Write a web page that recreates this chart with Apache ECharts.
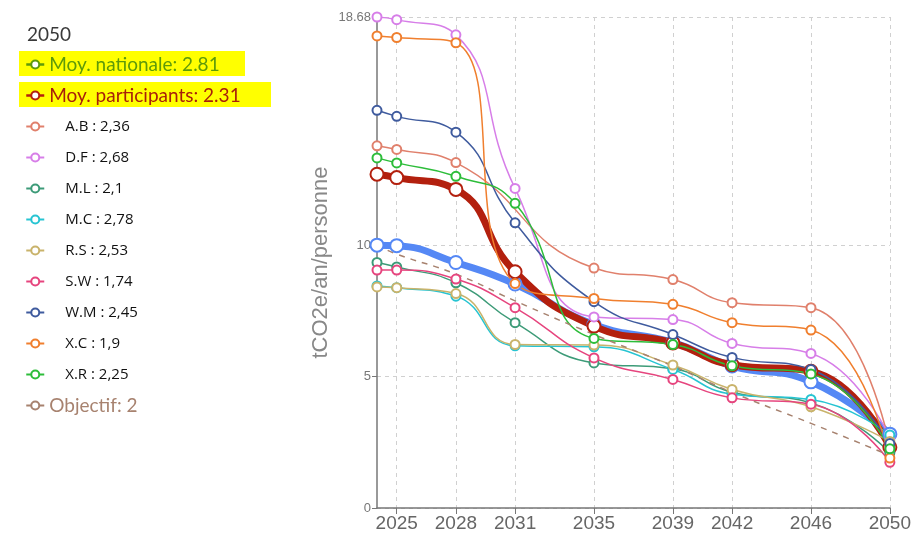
<!DOCTYPE html>
<html>
<head>
<meta charset="utf-8">
<script src="https://cdn.jsdelivr.net/npm/echarts@6/dist/echarts.min.js"></script>
<style>
  html, body { margin: 0; padding: 0; background: #fff; }
  #main { width: 914px; height: 542px; }
</style>
</head>
<body>
<div id="main"></div>
<script>
// années (abscisses) et ticks
const years = [2024, 2025, 2028, 2031, 2035, 2039, 2042, 2046, 2050];
const xTicks = [2025, 2028, 2031, 2035, 2039, 2042, 2046, 2050];
const yTicks = [0, 5, 10, 18.68];

// moyennes
const moyNationale = [10.0, 9.98, 9.34, 8.52, 6.98, 6.3, 5.4, 4.8, 2.81];
const moyParticipants = [12.7, 12.57, 12.12, 8.99, 6.92, 6.28, 5.45, 5.2, 2.31];

// participants
const participantNames = ['A.B', 'D.F', 'M.L', 'M.C', 'R.S', 'S.W', 'W.M', 'X.C', 'X.R'];
const AB = [13.78, 13.64, 13.14, null, 9.13, 8.69, 7.81, 7.62, 2.36];
const DF = [18.68, 18.58, 18.0, 12.16, 7.27, 7.17, 6.26, 5.88, 2.68];
const ML = [9.34, 9.17, 8.57, 7.05, 5.52, 5.3, 4.4, 4.0, 2.1];
const MC = [8.45, 8.38, 8.06, 6.17, 6.13, 5.27, 4.33, 4.13, 2.78];
const RS = [8.41, 8.38, 8.16, 6.22, 6.2, 5.44, 4.51, 3.85, 2.53];
const SW = [9.05, 9.05, 8.71, 7.62, 5.71, 4.89, 4.19, 3.95, 1.74];
const WM = [15.13, 14.9, 14.3, 10.85, 7.85, 6.6, 5.73, 5.27, 2.45];
const XC = [17.96, 17.9, 17.7, 8.54, 7.97, 7.75, 7.05, 6.77, 1.9];
const XR = [13.32, 13.13, 12.62, 11.59, 6.45, 6.22, 5.41, 5.1, 2.25];
const participantValues = [AB, DF, ML, MC, RS, SW, WM, XC, XR];
const participantColors = ['#e0806c', '#d77ee8', '#3d9b78', '#27c4d2', '#c9b36b', '#e6457e', '#3f5b9e', '#f07f2e', '#2dbd3a'];

// objectif
const objectif = [10, 9.66, 8.9, 7.88, 6.6, 5.4, 4.4, 3.22, 2];

const toPairs = (vals) => years.map((y, i) => [y, vals[i]]);

const series = [];
series.push({
    name: 'Moy. nationale',
    type: 'line',
    smooth: true,
    data: toPairs(moyNationale),
    symbol: 'emptyCircle',
    symbolSize: 13,
    color: '#5588f5',
    lineStyle: { width: 7 },
    itemStyle: { borderWidth: 3 }
});
series.push({
    name: 'Moy. participants',
    type: 'line',
    smooth: true,
    data: toPairs(moyParticipants),
    symbol: 'emptyCircle',
    symbolSize: 13,
    color: '#b3200e',
    lineStyle: { width: 7 },
    itemStyle: { borderWidth: 3 }
});
participantNames.forEach((n, i) => {
    series.push({
        name: n,
        type: 'line',
        smooth: true,
        connectNulls: true,
        data: toPairs(participantValues[i]),
        symbol: 'emptyCircle',
        symbolSize: 9,
        color: participantColors[i],
        lineStyle: { width: 1.5 },
        itemStyle: { borderWidth: 1.3 }
    });
});
series.push({
    name: 'Objectif',
    type: 'line',
    smooth: true,
    data: toPairs(objectif),
    symbol: 'emptyCircle',
    showSymbol: false,
    color: '#a7826f',
    lineStyle: { width: 1.5, type: [6, 6] }
});

// valeur 2050 de chaque série pour la légende
const lastVal = {};
series.forEach(s => { lastVal[s.name] = s.data[s.data.length - 1][1]; });

const chart = echarts.init(document.getElementById('main'));
chart.setOption({
    animation: false,
    title: {
        text: '2050',
        left: 22,
        top: 20,
        textStyle: { fontFamily: 'Lato', fontSize: 19, fontWeight: 'normal', color: '#3a3a3a' }
    },
    graphic: [
        { type: 'rect', z: 0, shape: { x: 19, y: 51, width: 226, height: 25 }, style: { fill: '#ffff00' } },
        { type: 'rect', z: 0, shape: { x: 19, y: 82, width: 252, height: 25 }, style: { fill: '#ffff00' } }
    ],
    legend: {
        orient: 'vertical',
        left: 20,
        top: 48,
        itemWidth: 18,
        itemHeight: 10,
        itemGap: 8,
        selectedMode: false,
        data: [
            { name: 'Moy. nationale', itemStyle: { color: '#5e9a0a', borderWidth: 1.5 }, lineStyle: { color: '#5e9a0a', width: 2.5 } },
            { name: 'Moy. participants', itemStyle: { borderWidth: 1.5 }, lineStyle: { width: 2.5 } }
        ].concat(participantNames.map(n => ({ name: n }))).concat([{ name: 'Objectif' }]),
        formatter: (name) => {
            const v = lastVal[name];
            if (name === 'Moy. nationale') return '{nat|' + name + ': ' + v + '}';
            if (name === 'Moy. participants') return '{par|' + name + ': ' + v + '}';
            if (name === 'Objectif') return '{obj|' + name + ': ' + v + '}';
            return '{ind|' + name + ' : ' + String(v).replace('.', ',') + '}';
        },
        textStyle: {
            lineHeight: 23,
            rich: {
                nat: { fontFamily: 'Lato', fontSize: 19, color: '#5e9a0a', lineHeight: 23, height: 23 },
                par: { fontFamily: 'Lato', fontSize: 19, color: '#a8200a', lineHeight: 23, height: 23 },
                ind: { fontFamily: 'Open Sans', fontSize: 15, color: '#111', lineHeight: 23, height: 23, padding: [0, 0, 0, 16] },
                obj: { fontFamily: 'Lato', fontSize: 19, color: '#a7826f', lineHeight: 23, height: 23 }
            }
        }
    },
    grid: { left: 377, right: 21, top: 17, bottom: 34 },
    xAxis: {
        type: 'value',
        min: 2024,
        max: 2050,
        axisLine: { lineStyle: { color: '#777', width: 1.5 } },
        axisTick: { customValues: xTicks, length: 6, lineStyle: { color: '#777' } },
        axisLabel: {
            customValues: xTicks,
            formatter: (v) => String(v),
            fontFamily: 'Liberation Sans',
            fontSize: 19,
            color: '#666',
            margin: 6
        },
        splitLine: { show: true, lineStyle: { type: [4, 4], color: '#d0d0d0' } }
    },
    yAxis: {
        type: 'value',
        min: 0,
        max: 18.68,
        name: 'tCO2e/an/personne',
        nameLocation: 'middle',
        nameMoveOverlap: false,
        nameGap: 45,
        nameTextStyle: { fontFamily: 'Liberation Sans', fontSize: 22, color: '#888' },
        axisLine: { show: true, lineStyle: { color: '#777', width: 1.5 } },
        axisTick: { show: true, customValues: yTicks, length: 5, lineStyle: { color: '#777' } },
        axisLabel: {
            customValues: yTicks,
            fontFamily: 'Liberation Sans',
            fontSize: 13,
            color: '#777',
            margin: 6
        },
        splitLine: { show: true, lineStyle: { type: [4, 4], color: '#d0d0d0' } }
    },
    series: series
});
</script>
</body>
</html>
